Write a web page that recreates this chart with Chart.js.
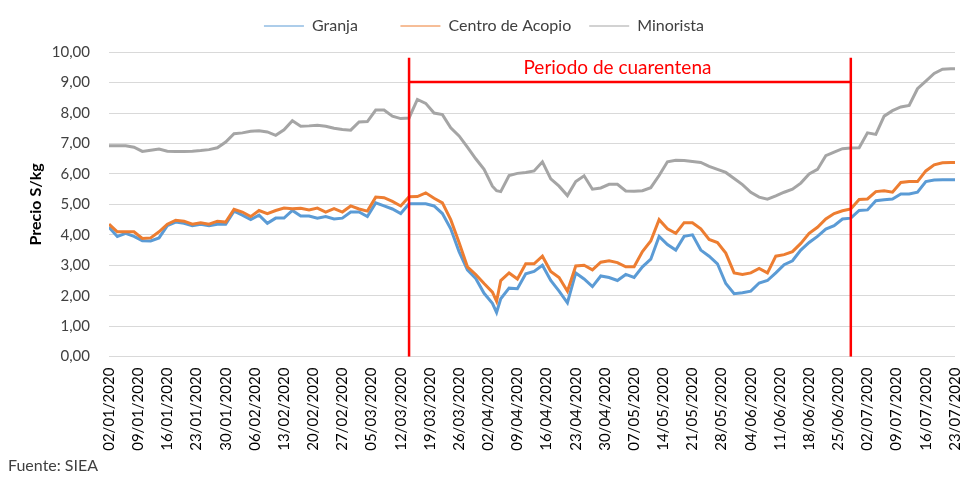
<!DOCTYPE html>
<html>
<head>
<meta charset="utf-8">
<script src="https://cdn.jsdelivr.net/npm/chart.js@4.4.0/dist/chart.umd.min.js"></script>
<style>
  html, body { margin: 0; padding: 0; background: #fff; }
  #wrap { width: 960px; height: 477px; }
</style>
</head>
<body>
<div id="wrap"><canvas id="grafico"></canvas></div>
<script>
// etiquetas semanales del eje x (día 0 = 02/01/2020)
const tickLabels = [
  '02/01/2020', '09/01/2020', '16/01/2020', '23/01/2020', '30/01/2020', '06/02/2020',
  '13/02/2020', '20/02/2020', '27/02/2020', '05/03/2020', '12/03/2020', '19/03/2020',
  '26/03/2020', '02/04/2020', '09/04/2020', '16/04/2020', '23/04/2020', '30/04/2020',
  '07/05/2020', '14/05/2020', '21/05/2020', '28/05/2020', '04/06/2020', '11/06/2020',
  '18/06/2020', '25/06/2020', '02/07/2020', '09/07/2020', '16/07/2020', '23/07/2020'
];

// días desde 02/01/2020
const dias = [
  0, 2, 4, 6, 8, 10, 12, 14, 16, 18, 20, 22, 24, 26, 28, 30, 32, 34, 36, 38,
  40, 42, 44, 46, 48, 50, 52, 54, 56, 58, 60, 62, 64, 66, 68, 70, 72, 74, 76, 78,
  80, 82, 84, 86, 88, 90, 92, 93, 94, 96, 98, 100, 102, 104, 106, 108, 110, 112, 114, 116,
  118, 120, 122, 124, 126, 128, 130, 132, 134, 136, 138, 140, 142, 144, 146, 148, 150, 152, 154, 156,
  158, 160, 162, 164, 166, 168, 170, 172, 174, 176, 178, 180, 182, 184, 186, 188, 190, 192, 194, 196,
  198, 200, 202, 203
];

const granja = [
  4.25, 3.95, 4.05, 3.95, 3.81, 3.80, 3.90, 4.30, 4.42, 4.38, 4.30, 4.35, 4.30, 4.35, 4.35, 4.78, 4.65, 4.50, 4.65, 4.38,
  4.55, 4.55, 4.80, 4.62, 4.62, 4.55, 4.60, 4.52, 4.55, 4.75, 4.75, 4.60, 5.05, 4.95, 4.85, 4.70, 5.02, 5.02, 5.02, 4.95,
  4.70, 4.20, 3.45, 2.85, 2.57, 2.08, 1.75, 1.45, 1.90, 2.25, 2.23, 2.72, 2.80, 3.00, 2.50, 2.15, 1.77, 2.75, 2.55, 2.30,
  2.65, 2.60, 2.50, 2.70, 2.60, 2.95, 3.20, 3.95, 3.68, 3.50, 3.95, 4.00, 3.50, 3.30, 3.05, 2.40, 2.07, 2.10, 2.15, 2.42,
  2.50, 2.75, 3.02, 3.15, 3.50, 3.75, 3.95, 4.19, 4.30, 4.52, 4.55, 4.80, 4.82, 5.12, 5.15, 5.18, 5.34, 5.34, 5.40, 5.75,
  5.80, 5.81, 5.81, 5.81
];

const centroAcopio = [
  4.35, 4.10, 4.10, 4.10, 3.88, 3.90, 4.10, 4.35, 4.48, 4.45, 4.35, 4.40, 4.35, 4.45, 4.42, 4.84, 4.75, 4.60, 4.80, 4.70,
  4.80, 4.88, 4.86, 4.87, 4.82, 4.88, 4.75, 4.86, 4.75, 4.95, 4.85, 4.78, 5.24, 5.22, 5.10, 4.95, 5.25, 5.26, 5.38, 5.20,
  5.05, 4.50, 3.75, 2.95, 2.70, 2.40, 2.12, 1.82, 2.50, 2.75, 2.55, 3.05, 3.05, 3.30, 2.80, 2.60, 2.15, 2.98, 3.00, 2.85,
  3.10, 3.15, 3.09, 2.95, 2.95, 3.45, 3.80, 4.50, 4.20, 4.05, 4.40, 4.40, 4.20, 3.85, 3.75, 3.40, 2.75, 2.70, 2.75, 2.90,
  2.75, 3.30, 3.35, 3.45, 3.72, 4.05, 4.25, 4.52, 4.70, 4.79, 4.85, 5.16, 5.18, 5.42, 5.45, 5.40, 5.72, 5.75, 5.75, 6.10,
  6.30, 6.37, 6.38, 6.38
];

const minorista = [
  6.93, 6.93, 6.93, 6.88, 6.74, 6.78, 6.82, 6.75, 6.74, 6.74, 6.75, 6.77, 6.80, 6.86, 7.05, 7.32, 7.35, 7.40, 7.42, 7.38,
  7.27, 7.45, 7.75, 7.57, 7.58, 7.60, 7.57, 7.50, 7.46, 7.44, 7.71, 7.72, 8.10, 8.10, 7.90, 7.82, 7.84, 8.45, 8.32, 8.00,
  7.95, 7.52, 7.25, 6.88, 6.50, 6.15, 5.60, 5.45, 5.42, 5.95, 6.02, 6.05, 6.10, 6.40, 5.84, 5.60, 5.29, 5.75, 5.94, 5.50,
  5.54, 5.66, 5.66, 5.44, 5.43, 5.45, 5.55, 5.95, 6.40, 6.45, 6.44, 6.41, 6.38, 6.25, 6.15, 6.05, 5.85, 5.65, 5.40, 5.24,
  5.17, 5.28, 5.40, 5.50, 5.70, 6.00, 6.15, 6.60, 6.72, 6.83, 6.85, 6.86, 7.35, 7.30, 7.90, 8.08, 8.20, 8.25, 8.80, 9.05,
  9.30, 9.44, 9.46, 9.46
];

// marcas del periodo de cuarentena (en días)
const inicioCuarentena = 72;
const finCuarentena = 178;

const FONT = 'Lato, "Open Sans", sans-serif';

function puntos(valores) {
  return dias.map((d, i) => ({ x: d, y: valores[i] }));
}

// texto rojo sobre la línea horizontal
const textoCuarentena = {
  id: 'textoCuarentena',
  afterDatasetsDraw(chart) {
    const { ctx, scales: { x, y } } = chart;
    ctx.save();
    ctx.fillStyle = '#FF0000';
    ctx.font = '19px ' + FONT;
    ctx.textAlign = 'center';
    ctx.textBaseline = 'middle';
    ctx.fillText('Periodo de cuarentena', x.getPixelForValue(122), y.getPixelForValue(9.5));
    ctx.restore();
  }
};

new Chart(document.getElementById('grafico'), {
  type: 'line',
  data: {
    datasets: [
      { label: 'Granja', data: puntos(granja), borderColor: '#5B9BD5', backgroundColor: '#5B9BD5', order: 3 },
      { label: 'Centro de Acopio', data: puntos(centroAcopio), borderColor: '#ED7D31', backgroundColor: '#ED7D31', order: 2 },
      { label: 'Minorista', data: puntos(minorista), borderColor: '#A5A5A5', backgroundColor: '#A5A5A5', order: 1 },
      { label: 'inicio', data: [{ x: inicioCuarentena, y: 0 }, { x: inicioCuarentena, y: 9.82 }], borderColor: '#FF0000', borderWidth: 2.5, order: 0 },
      { label: 'fin', data: [{ x: finCuarentena, y: 0 }, { x: finCuarentena, y: 9.82 }], borderColor: '#FF0000', borderWidth: 2.5, order: 0 },
      { label: 'periodo', data: [{ x: inicioCuarentena, y: 9.02 }, { x: finCuarentena, y: 9.02 }], borderColor: '#FF0000', borderWidth: 2.5, order: 0 }
    ]
  },
  options: {
    responsive: true,
    maintainAspectRatio: false,
    animation: false,
    elements: {
      point: { radius: 0 },
      line: { borderWidth: 3, tension: 0 }
    },
    layout: { padding: { left: 8, right: 0, top: 0, bottom: 2 } },
    plugins: {
      // título vacío usado como separador entre leyenda y gráfico
      title: {
        display: true,
        text: ' ',
        weight: 500,
        font: { family: FONT, size: 1 },
        padding: { top: 0, bottom: 7 }
      },
      legend: {
        position: 'top',
        labels: {
          usePointStyle: true,
          pointStyle: 'line',
          pointStyleWidth: 40,
          padding: 18,
          color: '#404040',
          font: { family: FONT, size: 16 },
          generateLabels(chart) {
            const items = Chart.defaults.plugins.legend.labels.generateLabels(chart)
              .filter(it => it.datasetIndex < 3)
              .sort((a, b) => a.datasetIndex - b.datasetIndex);
            // hueco más ancho tras "Granja", como en el original
            items[0].text += '      ';
            return items;
          },
          sort: (a, b) => a.datasetIndex - b.datasetIndex
        }
      },
      subtitle: {
        display: true,
        text: 'Fuente: SIEA',
        position: 'bottom',
        align: 'start',
        color: '#404040',
        font: { family: FONT, size: 16, weight: 'normal' },
        padding: { top: 2, bottom: 0 }
      },
      tooltip: { enabled: false }
    },
    scales: {
      x: {
        type: 'linear',
        min: 0,
        max: 203,
        grid: { display: false },
        border: { display: false },
        afterFit: s => { s.paddingRight = 5; },
        ticks: {
          stepSize: 7,
          autoSkip: false,
          maxRotation: 90,
          minRotation: 90,
          color: '#000',
          font: { family: FONT, size: 15 },
          callback: v => tickLabels[Math.round(v / 7)]
        }
      },
      y: {
        min: 0,
        max: 10,
        grid: { color: '#D9D9D9', drawTicks: false },
        border: { display: false },
        afterFit: s => { s.width = 101; },
        ticks: {
          stepSize: 1,
          padding: 19,
          color: '#404040',
          font: { family: FONT, size: 15 },
          callback: v => v.toFixed(2).replace('.', ',')
        },
        title: {
          display: true,
          text: 'Precio S/kg',
          color: '#000',
          font: { family: FONT, size: 16, weight: 'bold' },
          padding: { top: 18, bottom: 4 }
        }
      }
    }
  },
  plugins: [textoCuarentena]
});
</script>
</body>
</html>
